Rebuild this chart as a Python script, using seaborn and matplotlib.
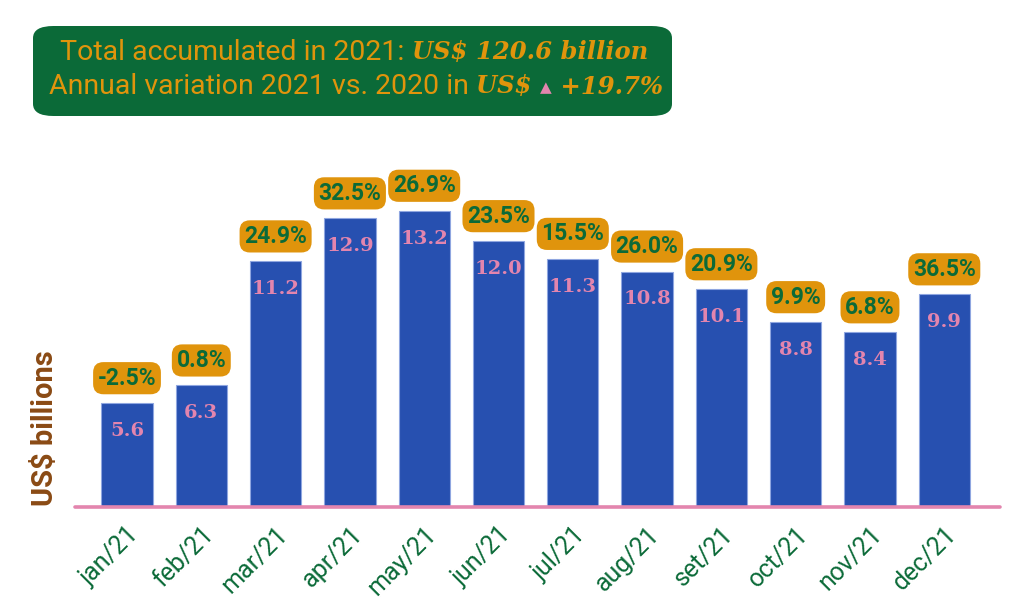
import matplotlib
matplotlib.use("Agg")
import matplotlib.pyplot as plt
import seaborn as sns
import pandas as pd
from matplotlib.patches import FancyBboxPatch

months = ["jan/21", "feb/21", "mar/21", "apr/21", "may/21", "jun/21",
          "jul/21", "aug/21", "set/21", "oct/21", "nov/21", "dec/21"]
values = [5.6, 6.3, 11.2, 12.9, 13.2, 12.0, 11.3, 10.8, 10.1, 8.8, 8.4, 9.9]
variation = ["-2.5%", "0.8%", "24.9%", "32.5%", "26.9%", "23.5%",
             "15.5%", "26.0%", "20.9%", "9.9%", "6.8%", "36.5%"]
total_text = "US$ 120.6 billion"
annual_var = "+19.7%"

GREEN = "#0b6a38"
ORANGE = "#e0940c"
BLUE = "#2750b0"
PINK = "#e385ae"
BROWN = "#8a4a14"

sns.set_theme(style="white")
plt.rcParams["font.family"] = ["Roboto", "DejaVu Sans"]

df = pd.DataFrame({"month": months, "value": values})

fig = plt.figure(figsize=(10.24, 6.05), dpi=100)
ax = fig.add_axes([75 / 1024, 98 / 605, 925 / 1024, 357 / 605])

sns.barplot(data=df, x="month", y="value", color=BLUE, saturation=1,
            width=0.69, edgecolor="#8fa6e0", linewidth=0.8, ax=ax)

ax.set_xlim(-0.7, 11.75)
ax.set_ylim(1.5, 15.6)
ax.set_yticks([])
ax.set_xlabel("")
ax.set_ylabel("")
for s in ["top", "right", "left"]:
    ax.spines[s].set_visible(False)
ax.spines["bottom"].set_color(PINK)
ax.spines["bottom"].set_linewidth(2.6)
ax.spines["bottom"].set_capstyle("round")

ax.tick_params(axis="x", length=0, pad=11)
plt.setp(ax.get_xticklabels(), rotation=45, ha="right", va="top",
         rotation_mode="anchor", color=GREEN, fontsize=18)

for i, (v, p) in enumerate(zip(values, variation)):
    ax.annotate(f"{v:.1f}", (i, v), xytext=(0, -20), textcoords="offset points",
                ha="center", va="center", color=PINK, fontsize=14,
                family="DejaVu Serif", fontweight="semibold")
    ax.annotate(p, (i, v), xytext=(0, 18), textcoords="offset points",
                ha="center", va="center", color=GREEN, fontsize=16.5,
                fontweight="bold", annotation_clip=False, clip_on=False,
                bbox=dict(boxstyle="round,pad=0.2,rounding_size=0.45",
                          fc=ORANGE, ec="none"))

fig.text(45 / 1024, 1 - 428 / 605, "US$ billions", rotation=90, ha="center",
         va="center", color=BROWN, fontsize=21, fontweight="bold")

# header box (drawn below the axes so the axes annotations sit on top)
box = FancyBboxPatch((33 / 1024, 1 - 116 / 605), (672 - 33) / 1024, 90 / 605,
                     boxstyle="round,pad=0,rounding_size=0.02",
                     transform=fig.transFigure, fc=GREEN, ec="none", zorder=-1)
fig.patches.append(box)

hdr = dict(ha="left", va="center", color=ORANGE, fontsize=20.5)
ser = dict(ha="left", va="center", color=ORANGE, fontsize=17.5,
           family="DejaVu Serif", fontweight="bold", fontstyle="italic",
           annotation_clip=False, clip_on=False)

t1 = fig.text(60 / 1024, 1 - 52 / 605, "Total accumulated in 2021: ", **hdr)
ax.annotate(total_text, xy=(1, 0.5), xycoords=t1, **ser)

t2 = fig.text(49 / 1024, 1 - 86 / 605, "Annual variation 2021 vs. 2020 in ", **hdr)
a2 = ax.annotate("US$ ", xy=(1, 0.5), xycoords=t2, **ser)
a3 = ax.annotate("\u25b2", xy=(1, 0.42), xycoords=a2, ha="left", va="center",
                 color=PINK, fontsize=11, annotation_clip=False, clip_on=False)
ax.annotate(" " + annual_var, xy=(1, 0.58), xycoords=a3, **ser)

fig.savefig("out.png", dpi=100)
